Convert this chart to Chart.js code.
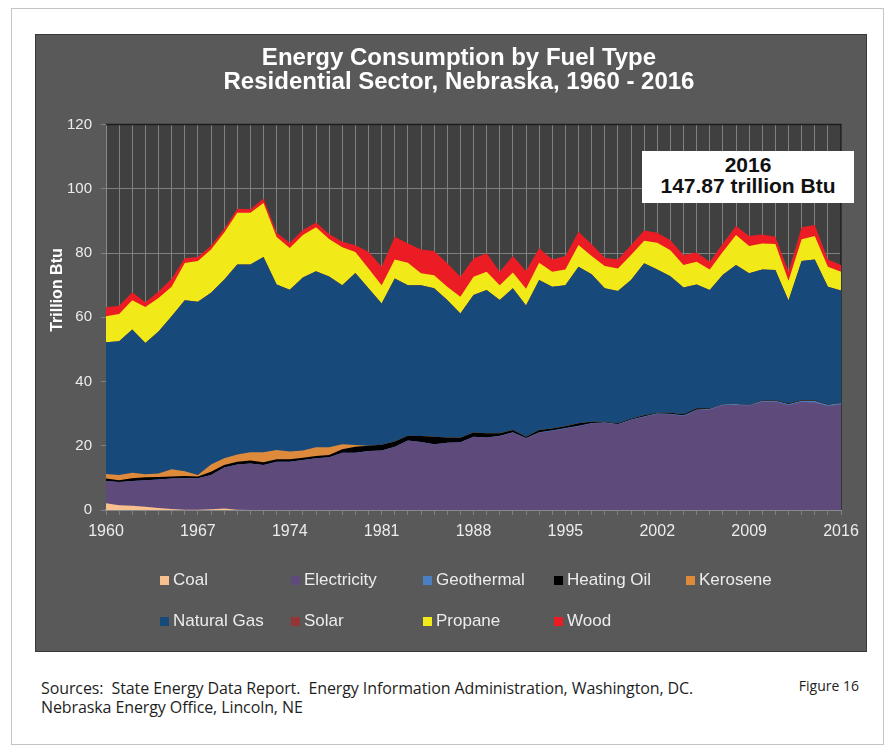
<!DOCTYPE html>
<html>
<head>
<meta charset="utf-8">
<script src="https://cdn.jsdelivr.net/npm/chart.js@4.4.1/dist/chart.umd.min.js"></script>
<style>
  html, body { margin: 0; padding: 0; background: #ffffff; }
  body { width: 895px; height: 749px; position: relative; overflow: hidden; font-family: 'Liberation Sans', Arial, sans-serif; }
  #frame { position: absolute; left: 11px; top: 8px; width: 873px; height: 737px; border: 1px solid #c4c4c4; box-sizing: border-box; }
  #box { position: absolute; left: 35px; top: 34px; width: 832px; height: 618px; background: #595959; border: 1px solid #383838; box-sizing: border-box; }
  #chartWrap { position: absolute; left: 36px; top: 35px; width: 830px; height: 616px; }
  #note { position: absolute; left: 642px; top: 151px; width: 212px; height: 52px; background: #ffffff; color: #111; text-align: center; font: bold 21px 'Liberation Sans', Arial, sans-serif; line-height: 20.5px; padding-top: 4px; box-sizing: border-box; }
  .lg { position: absolute; height: 20px; line-height: 20px; font-size: 17px; color: #ececec; white-space: nowrap; }
  .lg i { position: absolute; left: -13px; top: 6px; width: 9px; height: 9px; }
  .foot { position: absolute; font-family: 'Open Sans', sans-serif; color: #1e1e1e; white-space: nowrap; }
</style>
</head>
<body>
<div id="frame"></div>
<div id="box"></div>
<div id="chartWrap"><canvas id="c"></canvas></div>
<div id="note">2016<br>147.87 trillion Btu</div>
<div id="legend"></div>
<div class="foot" style="left:41px; top:679px; font-size:16px; line-height:19px; letter-spacing:-0.1px;">Sources:&nbsp; State Energy Data Report.&nbsp; Energy Information Administration, Washington, DC.<br>Nebraska Energy Office, Lincoln, NE</div>
<div class="foot" style="right:36px; top:676px; font-size:14px; line-height:19px;">Figure 16</div>
<script>
const years = ['1960','1961','1962','1963','1964','1965','1966','1967','1968','1969',
  '1970','1971','1972','1973','1974','1975','1976','1977','1978','1979',
  '1980','1981','1982','1983','1984','1985','1986','1987','1988','1989',
  '1990','1991','1992','1993','1994','1995','1996','1997','1998','1999',
  '2000','2001','2002','2003','2004','2005','2006','2007','2008','2009',
  '2010','2011','2012','2013','2014','2015','2016'];
const tickYears = ['1960','1967','1974','1981','1988','1995','2002','2009','2016'];

const coal = [2.1,1.5,1.3,1.0,0.6,0.3,0.1,0.1,0.2,0.5,
  0.1,0,0,0,0,0,0,0,0,0,
  0,0,0,0,0,0,0,0,0,0,
  0,0,0,0,0,0,0,0,0,0,
  0,0,0,0,0,0,0,0,0,0,
  0,0,0,0,0,0,0];
const electricity = [6.9,7.2,7.7,8.3,8.9,9.5,9.9,9.8,10.7,12.7,
  14.1,14.5,14.0,15.0,15.0,15.6,16.1,16.4,17.8,17.8,
  18.4,18.5,19.7,21.6,21.2,20.5,20.9,21.1,22.8,22.6,
  23.0,24.1,22.3,24.1,24.7,25.4,26.1,27.0,27.2,26.7,
  28.0,29.0,29.9,29.8,29.3,31.1,31.3,32.7,32.7,32.5,
  33.7,33.7,32.7,33.7,33.5,32.4,32.9];
const geothermal = [0,0,0,0,0,0,0,0,0,0,
  0,0,0,0,0,0,0,0,0,0,
  0,0,0,0,0,0,0,0,0,0,
  0.1,0.1,0.1,0.1,0.1,0.1,0.1,0.1,0.1,0.1,
  0.2,0.2,0.2,0.2,0.2,0.2,0.2,0.2,0.3,0.2,
  0.3,0.3,0.3,0.3,0.4,0.4,0.4];
const heatingOil = [0.8,0.6,0.9,0.9,0.8,0.6,0.6,0.5,1.0,0.8,
  0.8,0.9,0.9,0.8,0.8,0.7,0.7,0.7,1.1,1.9,
  1.6,1.8,1.6,1.5,1.8,2.3,1.7,1.4,1.3,1.3,
  0.8,0.7,0.4,0.7,0.6,0.6,0.8,0.4,0.2,0.2,
  0.2,0.3,0.2,0.3,0.3,0.4,0.2,0.1,0.1,0.1,
  0.2,0.2,0.2,0.2,0.2,0.1,0.1];
const kerosene = [1.4,1.6,1.7,0.9,1.1,2.3,1.5,0.5,2.3,2.1,
  2.3,2.6,3.1,2.9,2.4,2.2,2.7,2.4,1.6,0.5,
  0,0,0,0,0,0,0,0,0,0,
  0,0,0,0,0,0,0,0,0,0,
  0,0,0,0,0,0,0,0,0,0,
  0,0,0,0,0,0,0];
const naturalGas = [41.0,41.6,44.6,40.9,44.2,47.6,53.2,53.9,53.4,55.6,
  59.1,58.4,60.8,51.5,50.4,53.9,54.8,53.2,49.5,53.6,
  49.0,44.0,50.8,46.9,47.0,46.2,42.8,38.7,42.8,44.6,
  41.5,44.1,40.9,46.7,44.1,43.9,48.7,45.9,41.5,41.2,
  43.2,47.3,44.6,42.5,39.5,38.5,36.8,40.2,43.2,40.9,
  40.7,40.5,32.0,43.3,43.9,36.6,34.9];
const solar = [0,0,0,0,0,0,0,0,0,0,
  0,0,0,0,0,0,0,0,0,0,
  0,0,0,0,0,0,0,0,0,0,
  0,0,0,0,0,0,0,0,0,0,
  0,0,0,0,0,0,0,0,0,0,
  0,0,0,0,0,0,0];
const propane = [8.1,8.5,9.1,11.2,10.4,9.2,11.6,12.7,13.5,14.6,
  16.1,16.1,16.8,14.8,13.0,13.2,13.7,11.7,11.8,6.5,
  6.2,5.7,5.9,7.0,3.7,4.1,4.1,5.2,5.7,5.7,
  4.6,4.9,5.2,5.4,4.7,4.9,6.8,5.7,7.0,7.0,
  7.8,7.0,8.3,8.1,7.0,7.1,6.4,7.2,9.3,8.5,
  8.1,8.1,6.2,6.8,7.3,6.2,5.9];
const wood = [2.8,2.6,2.5,1.5,2.0,2.5,1.5,1.3,1.2,1.2,
  1.3,1.1,1.4,1.3,1.6,1.6,1.5,1.5,1.7,2.1,
  5.2,5.7,7.1,6.0,7.4,7.5,7.3,6.2,5.7,5.7,
  4.2,5.2,5.5,4.5,3.8,4.2,4.1,3.6,2.5,2.8,
  3.1,3.2,3.1,3.1,3.1,2.9,2.4,2.6,2.8,3.1,
  2.8,2.3,2.8,3.7,3.4,2.3,2.1];

const seriesNames = ['Coal','Electricity','Geothermal','Heating Oil','Kerosene','Natural Gas','Solar','Propane','Wood'];
const seriesData = [coal, electricity, geothermal, heatingOil, kerosene, naturalGas, solar, propane, wood];
const seriesColors = ['#f9c08f','#5f4b7b','#4a80c2','#000000','#dd8a3c','#17497b','#963634','#f1e918','#ec1c24'];

const FONT = "'Liberation Sans', Arial, sans-serif";

const decor = {
  id: 'decor',
  beforeDraw(chart) {
    const a = chart.chartArea, ctx = chart.ctx;
    ctx.save();
    ctx.fillStyle = '#404040';
    ctx.fillRect(a.left, a.top, a.right - a.left, a.bottom - a.top);
    ctx.restore();
  },
  beforeDatasetsDraw(chart) {
    const a = chart.chartArea, ctx = chart.ctx;
    ctx.save();
    ctx.strokeStyle = '#1c1c1c';
    ctx.lineWidth = 1.5;
    ctx.beginPath();
    ctx.moveTo(a.left, a.top);
    ctx.lineTo(a.right, a.top);
    ctx.lineTo(a.right, a.bottom);
    ctx.stroke();
    ctx.restore();
  },
  afterLayout(chart) {
    const t = chart.titleBlock;
    if (t && !t._shifted) {
      const orig = t.draw;
      t.draw = function (...args) {
        const dx = 423 - (this.left + this.right) / 2;
        this.ctx.save();
        this.ctx.translate(dx, 0);
        orig.apply(this, args);
        this.ctx.restore();
      };
      t._shifted = true;
    }
    const y = chart.scales.y;
    if (y && !y._shifted) {
      const origT = y.drawTitle;
      y.drawTitle = function (...args) {
        const dy = 255 - (this.top + this.bottom) / 2;
        this.ctx.save();
        this.ctx.translate(0, dy);
        origT.apply(this, args);
        this.ctx.restore();
      };
      y._shifted = true;
    }
  }
};

const chart = new Chart(document.getElementById('c'), {
  type: 'line',
  data: {
    labels: years,
    datasets: seriesNames.map((name, i) => ({
      label: name,
      data: seriesData[i],
      backgroundColor: seriesColors[i],
      borderColor: seriesColors[i],
      borderWidth: 0,
      pointRadius: 0,
      pointHoverRadius: 0,
      fill: 'origin',
      tension: 0
    }))
  },
  options: {
    responsive: true,
    maintainAspectRatio: false,
    animation: false,
    layout: { padding: { left: 0, right: 25, top: 0, bottom: 0 } },
    plugins: {
      legend: { display: false },
      tooltip: { enabled: false },
      title: {
        display: true,
        text: ['Energy Consumption by Fuel Type', 'Residential Sector, Nebraska, 1960 - 2016'],
        color: '#ffffff',
        font: { family: FONT, size: 24, weight: 'bold', lineHeight: 0.98 },
        padding: { top: 12, bottom: 30.5 }
      }
    },
    scales: {
      x: {
        type: 'category',
        offset: false,
        grid: { color: '#808080', lineWidth: 1, tickLength: 5, tickColor: '#808080', drawTicks: true },
        border: { color: '#8a8a8a', width: 2 },
        ticks: {
          autoSkip: false, maxRotation: 0, minRotation: 0,
          color: '#ececec', font: { family: FONT, size: 16 }, padding: 7,
          callback: (v, i) => (tickYears.includes(years[i]) ? years[i] : '')
        },
        afterFit: (s) => { s.height = 141; }
      },
      y: {
        stacked: true,
        min: 0, max: 120,
        grid: { color: '#808080', lineWidth: 1, tickLength: 5, tickColor: '#808080' },
        border: { color: '#8a8a8a', width: 1 },
        ticks: { stepSize: 20, color: '#ececec', font: { family: FONT, size: 15 }, padding: 9 },
        title: {
          display: true, text: 'Trillion Btu', color: '#ffffff',
          font: { family: FONT, size: 16, weight: 'bold' },
          padding: { top: 12, bottom: 0 }
        },
        afterFit: (s) => { s.width = 70; }
      }
    }
  },
  plugins: [decor]
});

// HTML legend built from the chart's datasets
const legendCols = [173, 304, 436, 567, 699];
const legendRows = [570, 611];
const legendEl = document.getElementById('legend');
chart.data.datasets.forEach((ds, i) => {
  const d = document.createElement('div');
  d.className = 'lg';
  d.style.left = legendCols[i % 5] + 'px';
  d.style.top = legendRows[Math.floor(i / 5)] + 'px';
  const sw = document.createElement('i');
  sw.style.background = ds.backgroundColor;
  d.appendChild(sw);
  d.appendChild(document.createTextNode(ds.label));
  legendEl.appendChild(d);
});
</script>
</body>
</html>
